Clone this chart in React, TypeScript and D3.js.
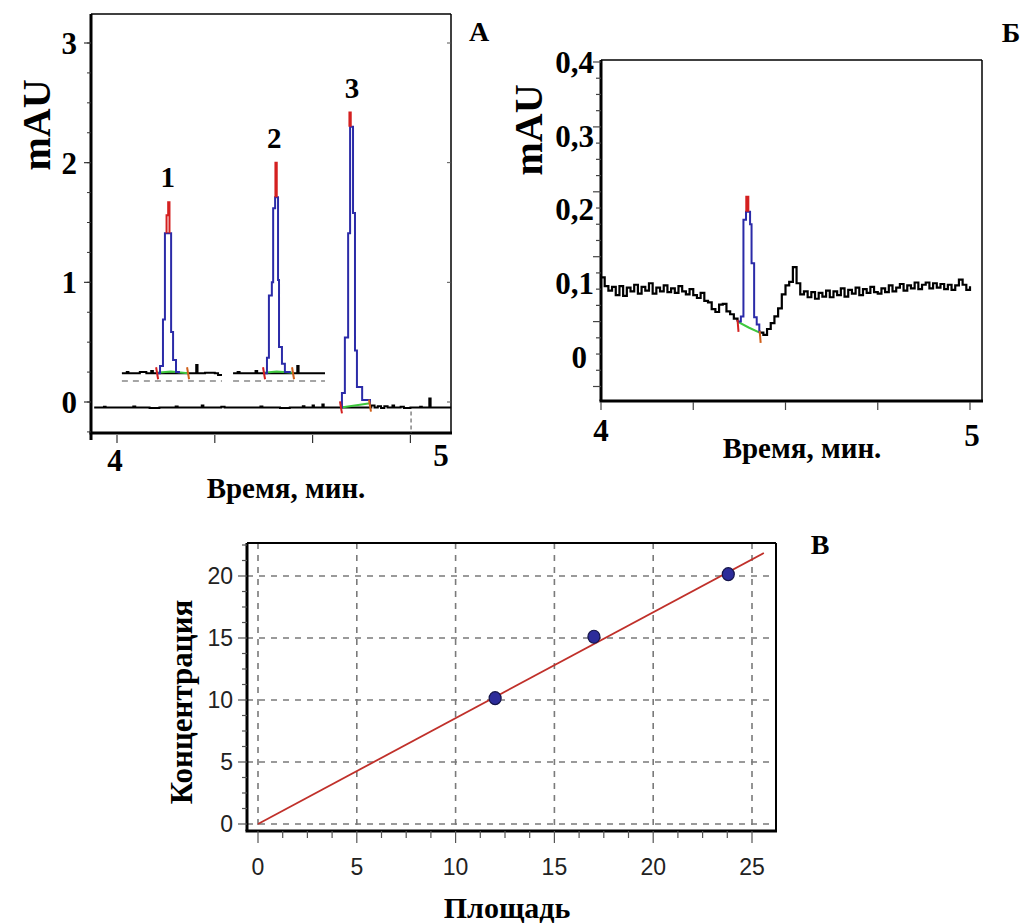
import React from "react";
import * as d3 from "d3";

type Pt = [number, number];

const serif = "'Liberation Serif', 'Times New Roman', serif";
const narrow = "'Liberation Sans Narrow', 'Liberation Sans', Arial, sans-serif";

// ---------- panel A: standards chromatogram ----------
const aYTicks = [0, 1, 2, 3];
const aXTicks = [4, 4.3, 4.6, 4.9];
const aXLabels = [4, 5];
const aPeakNames = ["1", "2", "3"];
const aPeakNamePos: Pt[] = [[4.156, 1.8], [4.482, 2.12], [4.721, 2.54]];

const aBaseline: Pt[] = [
  [3.93, -0.045], [3.96, -0.04], [3.965, -0.045], [4.02, -0.045], [4.05, -0.038], [4.056, -0.045],
  [4.1, -0.05], [4.13, -0.045], [4.18, -0.038], [4.186, -0.045], [4.24, -0.045], [4.26, -0.03],
  [4.265, -0.045], [4.32, -0.04], [4.33, -0.045], [4.4, -0.045], [4.44, -0.038], [4.446, -0.045],
  [4.5, -0.05], [4.53, -0.045], [4.57, -0.035], [4.575, -0.045], [4.6, -0.03], [4.604, -0.045],
  [4.63, -0.02], [4.634, -0.045], [4.687, -0.045], [4.776, -0.045], [4.78, -0.03], [4.79, -0.045],
  [4.8, -0.035], [4.81, -0.05], [4.82, -0.035], [4.83, -0.045], [4.845, -0.03], [4.85, -0.045],
  [4.87, -0.04], [4.88, -0.05], [4.9, -0.045], [4.93, -0.04], [4.935, -0.045], [4.955, -0.045],
  [4.958, 0.03], [4.962, -0.045], [5.025, -0.045],
];
const aInset1: Pt[] = [
  [4.015, 0.24], [4.03, 0.25], [4.035, 0.24], [4.07, 0.25], [4.09, 0.24], [4.105, 0.26], [4.11, 0.24],
  [4.218, 0.24], [4.243, 0.31], [4.247, 0.24], [4.27, 0.245], [4.3, 0.24], [4.31, 0.225], [4.322, 0.225],
];
const aInset2: Pt[] = [
  [4.356, 0.24], [4.37, 0.25], [4.376, 0.24], [4.41, 0.24], [4.425, 0.26], [4.43, 0.24],
  [4.54, 0.24], [4.553, 0.3], [4.557, 0.24], [4.6, 0.24], [4.638, 0.24],
];
const aInsetDash: Pt[][] = [[[4.015, 0.175], [4.322, 0.175]], [[4.356, 0.175], [4.638, 0.175]]];

const aPeak1: Pt[] = [
  [4.123, 0.24], [4.132, 0.3], [4.141, 0.69], [4.147, 1.41], [4.166, 0.585], [4.172, 0.35], [4.181, 0.25], [4.19, 0.24],
];
const aPeak2: Pt[] = [
  [4.451, 0.24], [4.46, 0.37], [4.466, 0.89], [4.475, 1.0], [4.479, 1.62], [4.485, 1.71], [4.494, 1.02],
  [4.497, 0.46], [4.506, 0.32], [4.515, 0.25], [4.53, 0.24],
];
const aPeak3: Pt[] = [
  [4.687, -0.045], [4.69, 0.075], [4.699, 0.54], [4.709, 1.41], [4.715, 2.3], [4.724, 1.58], [4.73, 0.43],
  [4.736, 0.125], [4.752, 0.017], [4.776, -0.03],
];
const aApex: Pt[][] = [
  [[4.152, 1.41], [4.152, 1.56], [4.157, 1.56], [4.157, 1.67], [4.161, 1.67], [4.161, 1.41]],
  [[4.486, 1.71], [4.486, 2.0], [4.49, 2.0], [4.49, 1.71]],
  [[4.713, 2.3], [4.713, 2.42], [4.717, 2.42], [4.717, 2.3]],
];
const aGreen: Pt[][] = [
  [[4.123, 0.245], [4.165, 0.255], [4.218, 0.24]],
  [[4.451, 0.245], [4.49, 0.255], [4.54, 0.245]],
  [[4.687, -0.045], [4.74, -0.025], [4.776, -0.01]],
];
const aMarks: Pt[] = [[4.123, 0.24], [4.218, 0.24], [4.451, 0.24], [4.54, 0.24], [4.687, -0.045], [4.776, -0.03]];
const aCursor: Pt[] = [[4.902, -0.08], [4.902, -0.26]];

// ---------- panel B: sample chromatogram ----------
const bYLabels = ["0", "0,1", "0,2", "0,3", "0,4"];
const bYLabelValues = [0, 0.1, 0.2, 0.3, 0.4];
const bXTicks = [4, 4.25, 4.5, 4.75, 5];
const bXLabels = [4, 5];
const bBeforeStart = 4.0;
const bBefore = [
  0.108, 0.096, 0.09, 0.095, 0.084, 0.096, 0.083, 0.094, 0.089, 0.098, 0.086, 0.095, 0.09, 0.1, 0.086,
  0.094, 0.089, 0.097, 0.088, 0.093, 0.087, 0.096, 0.089, 0.085, 0.092, 0.084, 0.08, 0.087, 0.076, 0.074,
  0.065, 0.061, 0.071, 0.072, 0.062, 0.058, 0.052, 0.048,
];
const bAfterStart = 4.43;
const bAfter = [
  0.033, 0.03, 0.038, 0.046, 0.055, 0.066, 0.085, 0.097, 0.102, 0.122, 0.1, 0.085, 0.089, 0.081, 0.088,
  0.079, 0.087, 0.082, 0.09, 0.081, 0.089, 0.084, 0.093, 0.082, 0.091, 0.086, 0.094, 0.084, 0.092, 0.087,
  0.095, 0.088, 0.086, 0.093, 0.088, 0.097, 0.089, 0.094, 0.099, 0.09, 0.097, 0.093, 0.101, 0.092, 0.098,
  0.101, 0.093, 0.1, 0.094, 0.099, 0.092, 0.098, 0.091, 0.097, 0.105, 0.098, 0.091, 0.096,
];
const bPeak: Pt[] = [
  [4.37, 0.048], [4.379, 0.055], [4.386, 0.186], [4.393, 0.197], [4.404, 0.18], [4.408, 0.127],
  [4.415, 0.054], [4.422, 0.044], [4.429, 0.035], [4.43, 0.033],
];
const bApex: Pt[] = [[4.394, 0.197], [4.394, 0.217], [4.399, 0.217], [4.399, 0.197]];
const bGreen: Pt[] = [[4.37, 0.048], [4.4, 0.04], [4.43, 0.033]];
const bMarks: Pt[] = [[4.37, 0.045], [4.43, 0.03]];

// ---------- panel C: calibration ----------
const cTicks = [0, 5, 10, 15, 20, 25];
const cYTicks = [0, 5, 10, 15, 20];
const cArea = [12.0, 17.0, 23.8];
const cConc = [10.15, 15.1, 20.15];
const cFitX = [0, 25.6];
const cFitY = [0, 21.85];

function PanelA() {
  const x = d3.scaleLinear().domain([4, 5]).range([117, 443]);
  const y = d3.scaleLinear().domain([0, 3]).range([402, 43]);
  const step = d3.line<Pt>().x(d => x(d[0])).y(d => y(d[1])).curve(d3.curveStepAfter);
  const lin = d3.line<Pt>().x(d => x(d[0])).y(d => y(d[1]));
  const L = 91, R = 451, T = 14, B = 433;
  const minor = d3.range(-0.25, 3.01, 0.25);
  return (
    <g>
      <line x1={L} x2={R} y1={T} y2={T} stroke="#000" strokeWidth={1.5} />
      <line x1={R} x2={R} y1={T} y2={B} stroke="#000" strokeWidth={1.5} />
      <line x1={L} x2={L} y1={T} y2={440} stroke="#000" strokeWidth={3} />
      <line x1={L - 1.5} x2={R + 1} y1={B} y2={B} stroke="#000" strokeWidth={3} />
      {minor.map(v => (
        <line key={v} x1={L - 4} x2={L} y1={y(v)} y2={y(v)} stroke="#333" strokeWidth={1} />
      ))}
      {aYTicks.map(v => (
        <g key={v}>
          <line x1={L - 7} x2={L} y1={y(v)} y2={y(v)} stroke="#333" strokeWidth={1.2} />
          <line x1={R - 4} x2={R} y1={y(v)} y2={y(v)} stroke="#555" strokeWidth={1} />
          <text x={77} y={y(v)} dy="0.35em" textAnchor="end" fontFamily={serif} fontWeight="bold" fontSize={31}>{v}</text>
        </g>
      ))}
      {aXTicks.map(v => (
        <line key={v} x1={x(v)} x2={x(v)} y1={B + 2} y2={B + 10} stroke="#333" strokeWidth={1.2} />
      ))}
      {aXLabels.map((v, i) => (
        <text key={v} x={x(v) - 2} y={i === 0 ? 471 : 466} textAnchor="middle" fontFamily={serif} fontWeight="bold" fontSize={31}>{v}</text>
      ))}
      <path d={lin(aCursor) || ""} stroke="#666" strokeWidth={1.2} strokeDasharray="4,3" fill="none" />
      {aInsetDash.map((d, i) => (
        <path key={i} d={lin(d) || ""} stroke="#888" strokeWidth={1.5} strokeDasharray="6,5" fill="none" />
      ))}
      {[aBaseline, aInset1, aInset2].map((d, i) => (
        <path key={i} d={step(d) || ""} stroke="#000" strokeWidth={2} fill="none" />
      ))}
      {aGreen.map((d, i) => (
        <path key={i} d={lin(d) || ""} stroke="#3ec83e" strokeWidth={2} fill="none" />
      ))}
      {[aPeak1, aPeak2, aPeak3].map((d, i) => (
        <path key={i} d={step(d) || ""} stroke="#2b2ba8" strokeWidth={2} fill="none" />
      ))}
      {aApex.map((d, i) => (
        <path key={i} d={lin(d) || ""} stroke="#d42020" strokeWidth={2} fill="none" />
      ))}
      {aMarks.map((d, i) => (
        <line key={i} x1={x(d[0]) - 1} x2={x(d[0]) + 1} y1={y(d[1]) - 6} y2={y(d[1]) + 6} stroke={i % 2 ? "#d0601a" : "#d42020"} strokeWidth={2} />
      ))}
      {aPeakNames.map((n, i) => (
        <text key={n} x={x(aPeakNamePos[i][0])} y={y(aPeakNamePos[i][1])} textAnchor="middle" fontFamily={serif} fontWeight="bold" fontSize={29}>{n}</text>
      ))}
      <text transform="translate(50,125) rotate(-90)" textAnchor="middle" fontFamily={serif} fontWeight="bold" fontSize={40}>mAU</text>
      <text x={479} y={41} textAnchor="middle" fontFamily={serif} fontWeight="bold" fontSize={28}>А</text>
      <text x={286} y={498} textAnchor="middle" fontFamily={serif} fontWeight="bold" fontSize={29}>Время, мин.</text>
    </g>
  );
}

function PanelB() {
  const x = d3.scaleLinear().domain([4, 5]).range([601, 970]);
  const y = d3.scaleLinear().domain([0, 0.4]).range([357, 62]);
  const step = d3.line<Pt>().x(d => x(d[0])).y(d => y(d[1])).curve(d3.curveStepAfter);
  const lin = d3.line<Pt>().x(d => x(d[0])).y(d => y(d[1]));
  const L = 601, R = 982, T = 60, B = 401;
  const ticks = d3.range(0, 21).map(i => 0.4 - i * 0.022);
  const before: Pt[] = bBefore.map((v, i) => [bBeforeStart + i * 0.01, v]);
  const after: Pt[] = bAfter.map((v, i) => [bAfterStart + i * 0.01, v]);
  return (
    <g>
      <line x1={L} x2={R} y1={T} y2={T} stroke="#000" strokeWidth={1.5} />
      <line x1={R} x2={R} y1={T} y2={B} stroke="#000" strokeWidth={1.5} />
      <line x1={L} x2={L} y1={T} y2={B} stroke="#000" strokeWidth={3} />
      <line x1={L - 1.5} x2={R + 1} y1={B} y2={B} stroke="#000" strokeWidth={3} />
      {ticks.map((v, i) => (
        <line key={i} x1={L - (i % 4 === 0 ? 8 : 5)} x2={L} y1={y(v)} y2={y(v)} stroke="#444" strokeWidth={1.2} />
      ))}
      {bXTicks.map(v => (
        <line key={v} x1={x(v)} x2={x(v)} y1={B + 1} y2={B + 9} stroke="#444" strokeWidth={1.2} />
      ))}
      {bYLabels.map((s, i) => (
        <text key={s} x={s === "0" ? 587 : 594} y={y(bYLabelValues[i])} dy="0.35em" textAnchor="end" fontFamily={serif} fontWeight="bold" fontSize={31}>{s}</text>
      ))}
      {bXLabels.map((v, i) => (
        <text key={v} x={x(v) + (i ? 2 : 0)} y={i ? 446 : 441} textAnchor="middle" fontFamily={serif} fontWeight="bold" fontSize={31}>{v}</text>
      ))}
      <path d={step(before) || ""} stroke="#000" strokeWidth={2.2} fill="none" />
      <path d={step(after) || ""} stroke="#000" strokeWidth={2.2} fill="none" />
      <path d={lin(bGreen) || ""} stroke="#3ec83e" strokeWidth={2} fill="none" />
      <path d={step(bPeak) || ""} stroke="#2b2ba8" strokeWidth={2} fill="none" />
      <path d={lin(bApex) || ""} stroke="#d42020" strokeWidth={2.2} fill="none" />
      {bMarks.map((d, i) => (
        <line key={i} x1={x(d[0])} x2={x(d[0]) + 1} y1={y(d[1]) - 4} y2={y(d[1]) + 8} stroke={i ? "#d0601a" : "#d42020"} strokeWidth={2} />
      ))}
      <text transform="translate(542,130) rotate(-90)" textAnchor="middle" fontFamily={serif} fontWeight="bold" fontSize={40}>mAU</text>
      <text x={1011} y={42} textAnchor="middle" fontFamily={serif} fontWeight="bold" fontSize={28}>Б</text>
      <text x={802} y={458} textAnchor="middle" fontFamily={serif} fontWeight="bold" fontSize={29}>Время, мин.</text>
    </g>
  );
}

function PanelC() {
  const x = d3.scaleLinear().domain([0, 25]).range([258, 752]);
  const y = d3.scaleLinear().domain([0, 20]).range([824, 576]);
  const L = 247, R = 776, T = 543, B = 831;
  const minorX = d3.range(0, 26.1, 1.25);
  const minorY = d3.range(0, 22.6, 1.25);
  const fit = d3.line<number>().x(d => x(d)).y((_, i) => y(cFitY[i]));
  return (
    <g>
      {cTicks.map(v => (
        <line key={v} x1={x(v)} x2={x(v)} y1={T} y2={B} stroke="#7a7a7a" strokeWidth={1.6} strokeDasharray="6,6" />
      ))}
      {cYTicks.map(v => (
        <line key={v} x1={L} x2={R} y1={y(v)} y2={y(v)} stroke="#7a7a7a" strokeWidth={1.6} strokeDasharray="6,6" />
      ))}
      <line x1={L} x2={R} y1={T} y2={T} stroke="#000" strokeWidth={2} />
      <line x1={R} x2={R} y1={T} y2={B} stroke="#000" strokeWidth={2} />
      <line x1={L} x2={L} y1={T} y2={B} stroke="#000" strokeWidth={3} />
      <line x1={L - 1.5} x2={R + 1} y1={B} y2={B} stroke="#000" strokeWidth={3} />
      {minorX.map(v => (
        <line key={v} x1={x(v)} x2={x(v)} y1={B} y2={B + (v % 5 === 0 ? 12 : 7)} stroke="#555" strokeWidth={1.2} />
      ))}
      {minorY.map(v => (
        <line key={v} x1={L - (v % 5 === 0 ? 9 : 5)} x2={L} y1={y(v)} y2={y(v)} stroke="#555" strokeWidth={1.2} />
      ))}
      {cTicks.map(v => (
        <text key={v} x={x(v)} y={875} textAnchor="middle" fontFamily={narrow} fontSize={23} fill="#222">{v}</text>
      ))}
      {cYTicks.map(v => (
        <text key={v} x={233} y={y(v)} dy="0.36em" textAnchor="end" fontFamily={narrow} fontSize={23} fill="#222">{v}</text>
      ))}
      <path d={fit(cFitX) || ""} stroke="#c0302a" strokeWidth={1.8} fill="none" />
      {cArea.map((a, i) => (
        <ellipse key={i} cx={x(a)} cy={y(cConc[i])} rx={6} ry={6.5} fill="#2c2c9a" stroke="#15154a" strokeWidth={1.2} />
      ))}
      <text transform="translate(192,702) rotate(-90)" textAnchor="middle" fontFamily={serif} fontWeight="bold" fontSize={31}>Концентрация</text>
      <text x={507} y={918} textAnchor="middle" fontFamily={serif} fontWeight="bold" fontSize={30}>Площадь</text>
      <text x={820} y={554} textAnchor="middle" fontFamily={serif} fontWeight="bold" fontSize={28}>В</text>
    </g>
  );
}

export default function App() {
  return (
    <svg width={1023} height={923} style={{ position: "absolute", left: 0, top: 0, background: "#fff" }}>
      <rect width={1023} height={923} fill="#fff" />
      <PanelA />
      <PanelB />
      <PanelC />
    </svg>
  );
}
